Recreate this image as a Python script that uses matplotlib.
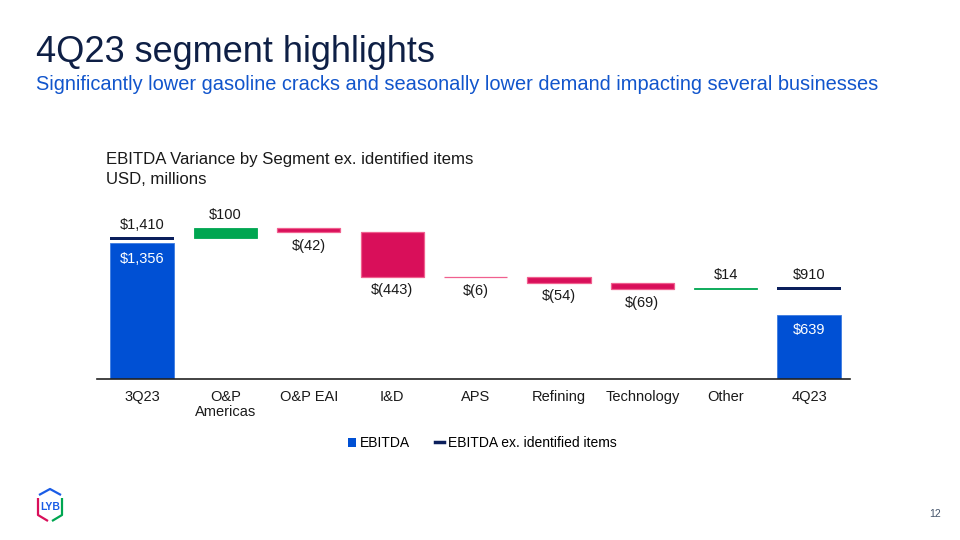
import numpy as np
import matplotlib.pyplot as plt
from matplotlib.lines import Line2D
from matplotlib.patches import Patch

plt.rcParams['font.family'] = ['Liberation Sans', 'DejaVu Sans']

categories = ['3Q23', 'O&P\nAmericas', 'O&P EAI', 'I&D', 'APS', 'Refining', 'Technology', 'Other', '4Q23']
ebitda = {'3Q23': 1356, '4Q23': 639}
ex_items = {'3Q23': 1410, '4Q23': 910}
deltas = [100, -42, -443, -6, -54, -69, 14]
delta_labels = ['$100', '$(42)', '$(443)', '$(6)', '$(54)', '$(69)', '$14']

BLUE = '#0050d4'
NAVY = '#0b1f5c'
GREEN = '#00a651'
PINK = '#d90f5a'
PINK_EDGE = '#f0608f'
TEXT = '#1a1a1a'

fig = plt.figure(figsize=(9.6, 5.4), dpi=100)
fig.patch.set_facecolor('white')

fig.text(36 / 960, 1 - 52 / 540, '4Q23 segment highlights', fontsize=26,
         color='#0e1f45', va='center', ha='left')
fig.text(36 / 960, 1 - 85 / 540,
         'Significantly lower gasoline cracks and seasonally lower demand impacting several businesses',
         fontsize=14.4, color='#1155cc', va='center', ha='left')
fig.text(106 / 960, 1 - 159 / 540, 'EBITDA Variance by Segment ex. identified items',
         fontsize=12.1, color=TEXT, va='center', ha='left')
fig.text(106 / 960, 1 - 179 / 540, 'USD, millions',
         fontsize=12.1, color=TEXT, va='center', ha='left')

# axes: baseline at y=379px, 0.1 px per USD m
ax = fig.add_axes([97 / 960, (540 - 379) / 540, (850 - 97) / 960, 160 / 540])
ax.set_xlim(-0.54, 8.49)
ax.set_ylim(0, 1600)

x = np.arange(len(categories))
w = 0.76
lbl_kw = dict(ha='center', fontsize=10.5, color=TEXT, textcoords='offset points')

# start / end EBITDA bars
for i, key in [(0, '3Q23'), (8, '4Q23')]:
    ax.bar(x[i], ebitda[key], width=w, color=BLUE, edgecolor='#3d7be0', linewidth=0.6)
    ax.annotate('${:,}'.format(ebitda[key]), (x[i], ebitda[key]), xytext=(0, -6),
                va='top', ha='center', fontsize=10.5, color='white', textcoords='offset points')
    ax.bar(x[i], 30, bottom=ex_items[key] - 15, width=w, color=NAVY)
    ax.annotate('${:,}'.format(ex_items[key]), (x[i], ex_items[key] + 15), xytext=(0, 3),
                va='bottom', **lbl_kw)

# floating variance bars
level = ex_items['3Q23']
for j, d in enumerate(deltas):
    i = j + 1
    if d >= 0:
        ax.bar(x[i], d, bottom=level, width=w, color=GREEN, edgecolor=GREEN, linewidth=0.6)
        ax.annotate(delta_labels[j], (x[i], level + d), xytext=(0, 4), va='bottom', **lbl_kw)
    else:
        ax.bar(x[i], d, bottom=level, width=w, color=PINK, edgecolor=PINK_EDGE, linewidth=0.9)
        ax.annotate(delta_labels[j], (x[i], level + d), xytext=(0, -5), va='top', **lbl_kw)
    level += d

for s in ['top', 'right', 'left']:
    ax.spines[s].set_visible(False)
ax.spines['bottom'].set_color('#222222')
ax.spines['bottom'].set_linewidth(1.2)
ax.set_yticks([])
ax.set_xticks(x)
ax.set_xticklabels(categories, fontsize=10.5, color=TEXT, va='top', linespacing=1.1)
ax.tick_params(axis='x', length=0, pad=8)

handles = [Patch(facecolor=BLUE, label='EBITDA'),
           Line2D([0], [0], color=NAVY, lw=2.5, label='EBITDA ex. identified items')]
fig.legend(handles=handles, loc='center', bbox_to_anchor=(482 / 960, 1 - 443 / 540), ncol=2,
           frameon=False, fontsize=10, handlelength=0.6, handletextpad=0.3, columnspacing=1.8,
           handleheight=0.6)

# logo
lg = fig.add_axes([30 / 960, 1 - 525 / 540, 40 / 960, 40 / 540])
lg.set_xlim(0, 40)
lg.set_ylim(0, 40)
lg.axis('off')
lg.plot([9, 20, 31], [30, 36, 30], color='#1a5ce6', lw=1.6, solid_capstyle='butt')
lg.plot([8, 8, 18], [27, 10, 4], color=PINK, lw=1.6, solid_capstyle='butt')
lg.plot([32, 32, 22], [27, 10, 4], color=GREEN, lw=1.6, solid_capstyle='butt')
lg.text(20, 18, 'LYB', ha='center', va='center', fontsize=7.5, fontweight='bold', color='#1a5ce6')

fig.text(935 / 960, 1 - 514 / 540, '12', fontsize=7.5, color='#44546a', ha='center', va='center')

fig.savefig('out.png', dpi=100)
